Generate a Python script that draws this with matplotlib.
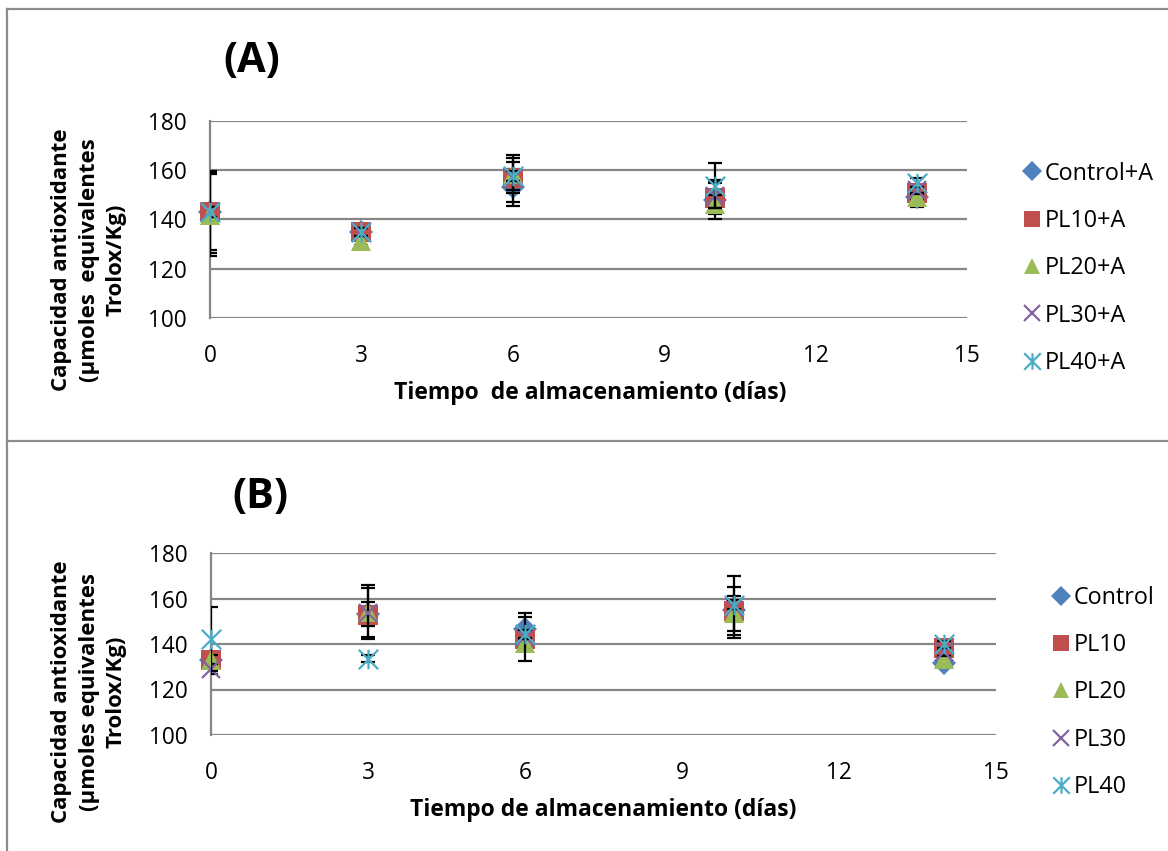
import matplotlib
matplotlib.use("Agg")
import matplotlib.pyplot as plt
from matplotlib.lines import Line2D
from matplotlib.path import Path

plt.rcParams['font.family'] = ['Open Sans', 'DejaVu Sans']

# storage days
days = [0, 3, 6, 10, 14]

# panel (A): with A
labels_a = ['Control+A', 'PL10+A', 'PL20+A', 'PL30+A', 'PL40+A']
ctrl_a = [143, 135, 153, 148, 149]
pl10_a = [143, 135, 156.8, 148.6, 150.7]
pl20_a = [142, 131.2, 158.5, 146.3, 149.3]
pl30_a = [143, 135, 157, 149.7, 151.8]
pl40_a = [143, 135, 157.5, 153.8, 155]
ctrl_a_sd = [16.5, 1.5, 7.5, 8, 4]
pl10_a_sd = [15.5, 1.5, 9.5, 6.5, 1.5]
pl20_a_sd = [17, 1.5, 6.6, 3.5, 1.5]
pl30_a_sd = [2, 1.5, 6.4, 5, 1.5]
pl40_a_sd = [2, 1.5, 2, 9, 1.8]

# panel (B): without A
labels_b = ['Control', 'PL10', 'PL20', 'PL30', 'PL40']
ctrl_b = [133, 153, 146.4, 155, 131.8]
pl10_b = [133, 152.6, 142.2, 154.6, 138.2]
pl20_b = [133, 154, 140.6, 153.6, 133.2]
pl30_b = [129, 153.8, 143, 156.2, 136.4]
pl40_b = [142.2, 133.6, 144.3, 157.3, 139.9]
ctrl_b_sd = [2, 5.3, 5.6, 3, 1.5]
pl10_b_sd = [2, 2, 2, 10.6, 1.5]
pl20_b_sd = [2, 11.9, 2, 7.7, 1.5]
pl30_b_sd = [2, 10.6, 10.5, 13.6, 1.5]
pl40_b_sd = [14, 1.5, 2, 2, 1.5]

colors = ['#4F81BD', '#C0504D', '#9BBB59', '#8064A2', '#4BACC6']
grid_c = '#868686'

# excel style "star": vertical bar plus an X
star = Path([(0, -1), (0, 1), (-1, -1), (1, 1), (-1, 1), (1, -1)],
            [Path.MOVETO, Path.LINETO] * 3)
markers = [dict(marker='D', markersize=12.5),
           dict(marker='s', markersize=14),
           dict(marker='^', markersize=14),
           dict(marker='x', markersize=13.5, markeredgewidth=1.6),
           dict(marker=star, markersize=14, markeredgewidth=1.6)]

W, H = 1168, 851
fig = plt.figure(figsize=(W / 100, H / 100), dpi=100)


def px_axes(left, top, right, bottom):
    return fig.add_axes([left / W, 1 - bottom / H, (right - left) / W, (bottom - top) / H])


def draw_panel(ax, series, sds, labels, leg_anchor):
    ax.set_xlim(0, 15)
    ax.set_ylim(100, 180)
    ax.set_xticks(range(0, 16, 3))
    ax.set_yticks(range(100, 181, 20))
    ax.yaxis.grid(True, color=grid_c, lw=1.6)
    ax.set_axisbelow(True)
    for s in ['top', 'right', 'bottom']:
        ax.spines[s].set_visible(False)
    ax.spines['left'].set_color(grid_c)
    ax.spines['left'].set_linewidth(1.6)
    ax.tick_params(length=0, labelsize=16.3, colors='black')
    ax.tick_params(axis='x', pad=19)
    ax.tick_params(axis='y', pad=17)

    handles = []
    for i, (vals, sd, lab) in enumerate(zip(series, sds, labels)):
        ax.errorbar(days, vals, yerr=sd, fmt='none', ecolor='black', elinewidth=1.6,
                    capsize=4.7, capthick=1.6, zorder=3 + i)
        kw = dict(markers[i])
        if kw['marker'] in ('x',) or kw['marker'] is star:
            kw.update(markeredgecolor=colors[i], markerfacecolor='none')
        else:
            kw.update(markeredgecolor=colors[i], markerfacecolor=colors[i], markeredgewidth=0)
        ln, = ax.plot(days, vals, linestyle='none', clip_on=False, zorder=3.5 + i,
                      label=lab, **kw)
        handles.append(ln)

    ax.legend(handles=handles, loc='upper left', bbox_to_anchor=leg_anchor,
              bbox_transform=fig.transFigure, frameon=False, fontsize=16.8,
              handlelength=0.6, handletextpad=0.25, labelspacing=1.0,
              borderpad=0, markerscale=0.85)


ax_a = px_axes(210, 121, 967, 318)
draw_panel(ax_a, [ctrl_a, pl10_a, pl20_a, pl30_a, pl40_a],
           [ctrl_a_sd, pl10_a_sd, pl20_a_sd, pl30_a_sd, pl40_a_sd],
           labels_a, (1013 / W, 1 - 150 / H))

ax_b = px_axes(211, 553, 996, 735)
draw_panel(ax_b, [ctrl_b, pl10_b, pl20_b, pl30_b, pl40_b],
           [ctrl_b_sd, pl10_b_sd, pl20_b_sd, pl30_b_sd, pl40_b_sd],
           labels_b, (1042 / W, 1 - 574 / H))


def ftext(x, y, s, **kw):
    fig.text(x / W, 1 - y / H, s, ha='center', va='center', **kw)


ftext(252, 62, '(A)', fontsize=30, fontweight='bold')
ftext(260, 497, '(B)', fontsize=30, fontweight='bold')

ylab_a = 'Capacidad antioxidante\n(µmoles  equivalentes\nTrolox/Kg)'
ylab_b = 'Capacidad antioxidante\n(µmoles equivalentes\nTrolox/Kg)'
ftext(89, 260, ylab_a, fontsize=16, fontweight='bold', rotation=90, linespacing=1.4)
ftext(89, 692, ylab_b, fontsize=16, fontweight='bold', rotation=90, linespacing=1.4)

ftext(590, 393, 'Tiempo  de almacenamiento (días)', fontsize=16.5, fontweight='bold')
ftext(603, 810, 'Tiempo de almacenamiento (días)', fontsize=16.5, fontweight='bold')

# frame lines around the two panels
for xs, ys in [([7, 7], [9, H]), ([7, W], [9, 9]), ([7, W], [441, 441])]:
    fig.add_artist(Line2D([x / W for x in xs], [1 - y / H for y in ys],
                          transform=fig.transFigure, color='#8c8c8c', lw=1.6))

fig.savefig('out.png', dpi=100, facecolor='white')
